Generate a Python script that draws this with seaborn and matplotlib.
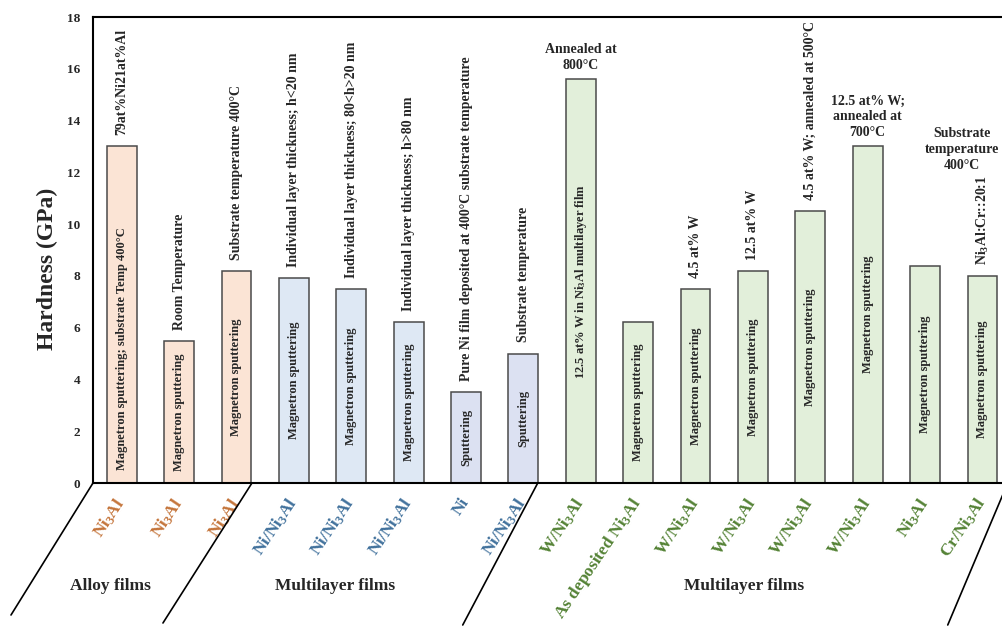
import matplotlib
matplotlib.use("Agg")
import matplotlib.pyplot as plt
import numpy as np
import pandas as pd
import seaborn as sns

# ---- data -------------------------------------------------------------
film_labels = [
    "Ni$_3$Al", "Ni$_3$Al", "Ni$_3$Al",
    "Ni/Ni$_3$Al", "Ni/Ni$_3$Al", "Ni/Ni$_3$Al", "Ni", "Ni/Ni$_3$Al",
    "W/Ni$_3$Al", "As deposited Ni$_3$Al", "W/Ni$_3$Al", "W/Ni$_3$Al",
    "W/Ni$_3$Al", "W/Ni$_3$Al", "Ni$_3$Al", "Cr/Ni$_3$Al",
]
hardness_gpa = [13.0, 5.5, 8.2, 7.9, 7.5, 6.2, 3.5, 5.0,
                15.6, 6.2, 7.5, 8.2, 10.5, 13.0, 8.4, 8.0]
film_group = ["alloy"] * 3 + ["multi_nickel"] * 5 + ["multi_tungsten"] * 8

method_notes = [
    "Magnetron sputtering; substrate Temp 400°C",
    "Magnetron sputtering", "Magnetron sputtering", "Magnetron sputtering",
    "Magnetron sputtering", "Magnetron sputtering",
    "Sputtering", "Sputtering",
    "12.5 at% W in Ni$_3$Al multilayer film",
    "Magnetron sputtering", "Magnetron sputtering", "Magnetron sputtering",
    "Magnetron sputtering", "Magnetron sputtering", "Magnetron sputtering",
    "Magnetron sputtering",
]
condition_notes = [
    "79at%Ni21at%Al", "Room Temperature", "Substrate temperature 400°C",
    "Individual layer thickness; h<20 nm",
    "Individual layer thickness; 80<h>20 nm",
    "Individual layer thickness; h>80 nm",
    "Pure Ni film deposited at 400°C substrate temperature",
    "Substrate temperature", "", "", "4.5 at% W", "12.5 at% W",
    "4.5 at% W; annealed at 500°C", "", "", "Ni$_3$Al:Cr::20:1",
]
stacked_notes = {8: "Annealed at\n800°C", 13: "12.5 at% W;\nannealed at\n700°C"}
side_note = "Substrate\ntemperature\n400°C"

group_titles = ["Alloy films", "Multilayer films", "Multilayer films"]

# ---- styling ----------------------------------------------------------
sns.set_theme(style="white")
plt.rcParams["font.family"] = ["Liberation Serif", "DejaVu Serif"]
plt.rcParams["font.weight"] = "bold"
plt.rcParams["axes.labelweight"] = "bold"
plt.rcParams["mathtext.default"] = "regular"

bar_fill = (["#FBE4D5"] * 3 + ["#DEE8F4"] * 3 + ["#DCE1F2"] * 2
            + ["#E2EFDA"] * 8)
label_color = {"alloy": "#C4743A", "multi_nickel": "#41719C",
               "multi_tungsten": "#548235"}

df = pd.DataFrame({
    "slot": [f"s{i}" for i in range(len(hardness_gpa))],
    "hardness": hardness_gpa,
})
palette = dict(zip(df["slot"], bar_fill))

fig = plt.figure(figsize=(10.02, 6.26), dpi=100)
ax = fig.add_axes([93 / 1002, 1 - 483 / 626, (1002 - 93) / 1002, 466 / 626])

sns.barplot(data=df, x="slot", y="hardness", hue="slot", palette=palette,
            width=0.52, edgecolor="#4A4A4A", linewidth=1.1, saturation=1,
            legend=False, ax=ax)

ax.set_xlim(-0.5, 15.34)
ax.set_ylim(0, 18)
ax.set_yticks(np.arange(0, 19, 2))
ax.tick_params(axis="y", length=0, pad=9, labelsize=9.5)
ax.set_ylabel("Hardness (GPa)", fontsize=17)
ax.yaxis.set_label_coords(-0.038, 0.46)

ax.set_xlabel("")
ax.set_xticks(range(len(film_labels)))
ax.set_xticklabels(film_labels, rotation=56, ha="right", va="center",
                   rotation_mode="anchor", fontsize=12.5)
ax.tick_params(axis="x", length=0, pad=12)
for tick, grp in zip(ax.get_xticklabels(), film_group):
    tick.set_color(label_color[grp])

for side in ("left", "bottom", "top"):
    ax.spines[side].set_visible(True)
    ax.spines[side].set_color("black")
    ax.spines[side].set_linewidth(1.5)
ax.spines["right"].set_visible(False)

# notes inside each bar
for i, (val, note) in enumerate(zip(hardness_gpa, method_notes)):
    y = 0.5 if i == 0 else val / 2
    va = "bottom" if i == 0 else "center"
    ax.text(i, y, note, rotation=90, ha="center", va=va, fontsize=9)

# notes above the bars
for i, (val, note) in enumerate(zip(hardness_gpa, condition_notes)):
    if note:
        ax.annotate(note, (i, val), xytext=(0, 8), textcoords="offset points",
                    rotation=90, ha="center", va="bottom", fontsize=10)
for i, note in stacked_notes.items():
    ax.annotate(note, (i, hardness_gpa[i]), xytext=(0, 5),
                textcoords="offset points", ha="center", va="bottom",
                fontsize=10, linespacing=1.3)
ax.text(14.64, 12.0, side_note, ha="center", va="bottom", fontsize=10,
        linespacing=1.3)

# slanted separators between film groups
separators = [(-0.5, -82, -132), (2.27, -89, -140), (7.25, -75, -142),
              (15.44, -60, -142)]
for xb, dx, dy in separators:
    ax.annotate("", xy=(xb, 0), xycoords="data", xytext=(dx, dy),
                textcoords="offset pixels", annotation_clip=False,
                arrowprops=dict(arrowstyle="-", color="black", lw=1.2,
                                shrinkA=0, shrinkB=0))

# group titles under the tick labels
trans = ax.get_xaxis_transform()
for xc, title in zip([-0.19, 3.72, 10.84], group_titles):
    ax.text(xc, -0.22, title, transform=trans, ha="center", va="center",
            fontsize=12.5)

fig.savefig("out.png", dpi=100)
